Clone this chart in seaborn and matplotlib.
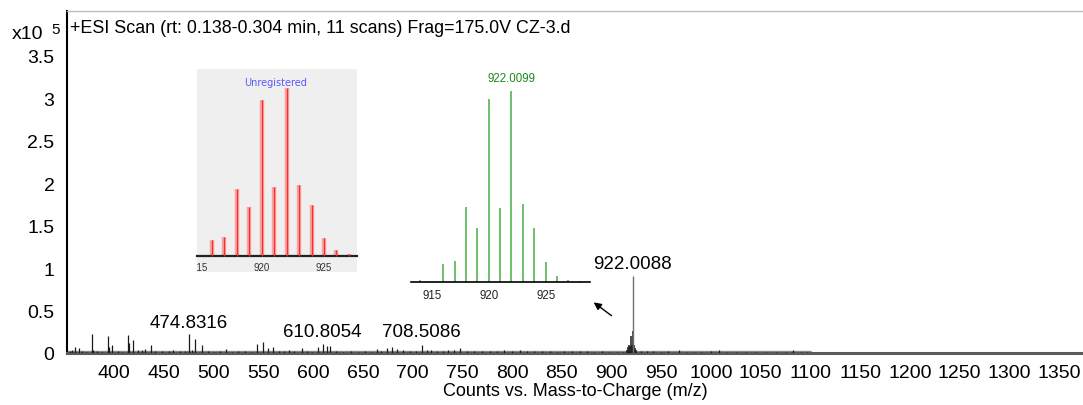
import matplotlib
matplotlib.use("Agg")
import matplotlib.pyplot as plt
import seaborn as sns
import numpy as np
import pandas as pd

# ---------------- data ----------------
main_mz = [356, 358, 361, 365, 368, 372, 377.3, 379, 383, 388, 393.4, 395, 398, 404, 408,
           414.2, 415.2, 419.2, 424, 428, 431, 436.6, 441, 448, 455, 459, 466, 471, 475.4,
           478, 481.1, 487.9, 494, 500, 506, 512.3, 518, 524, 531, 537, 543.2, 549.2, 554.8,
           559.9, 566, 571, 576, 581, 588.4, 594, 599, 605, 610.1, 613.5, 616.8, 623, 630,
           638, 645, 652, 658, 663.7, 668, 673.8, 678.8, 683.9, 690, 697, 703, 709, 714, 718,
           725, 731, 736, 742, 748, 755, 762, 770, 778, 785, 792, 800, 808, 815, 822, 830,
           838, 845, 852, 860, 868, 875, 882, 890, 897, 905, 912, 930, 936, 942, 950, 957,
           968, 975, 983, 990, 1000, 1008, 1015, 1025, 1035, 1045, 1055, 1065, 1075, 1082.5,
           1090, 1097]
main_int = [0.02, 0.03, 0.067, 0.055, 0.02, 0.015, 0.224, 0.04, 0.02, 0.015, 0.197, 0.066,
            0.09, 0.02, 0.015, 0.212, 0.118, 0.153, 0.03, 0.03, 0.05, 0.094, 0.02, 0.02,
            0.025, 0.04, 0.02, 0.025, 0.224, 0.03, 0.165, 0.094, 0.02, 0.015, 0.02, 0.05,
            0.015, 0.02, 0.02, 0.015, 0.106, 0.126, 0.055, 0.067, 0.02, 0.025, 0.03, 0.02,
            0.055, 0.02, 0.015, 0.067, 0.106, 0.086, 0.078, 0.02, 0.015, 0.02, 0.015, 0.02,
            0.015, 0.047, 0.02, 0.055, 0.067, 0.047, 0.03, 0.025, 0.02, 0.094, 0.03, 0.04,
            0.02, 0.025, 0.04, 0.03, 0.055, 0.02, 0.025, 0.02, 0.025, 0.02, 0.03, 0.02, 0.04,
            0.02, 0.025, 0.02, 0.02, 0.015, 0.02, 0.025, 0.02, 0.02, 0.015, 0.02, 0.015,
            0.015, 0.015, 0.02, 0.025, 0.02, 0.015, 0.02, 0.03, 0.015, 0.015, 0.015, 0.02,
            0.03, 0.015, 0.015, 0.015, 0.015, 0.015, 0.015, 0.015, 0.03, 0.015, 0.015]

cluster_mz = [916, 917, 918, 919, 920, 921, 922, 923, 924, 925]
cluster_int = [0.03, 0.065, 0.1, 0.08, 0.2, 0.1, 0.255, 0.1, 0.06, 0.03]
apex_mz = [922.0]
apex_int = [0.91]

noise_range = [352.5, 1100]
noise_level = [0.012, 0.012]

# isotope pattern insets (relative intensity, %)
meas_mz = [916, 917, 918, 919, 920, 921, 922, 923, 924, 925, 926, 927]
meas_int = [9.4, 11.4, 40.2, 29.3, 93.0, 41.2, 100.0, 42.4, 30.3, 11.0, 3.4, 1.0]

calc_mz = [914, 915, 916, 917, 918, 919, 920, 921, 922, 923, 924, 925, 926, 927, 928]
calc_int = [0.9, 0.4, 9.2, 11.0, 39.3, 28.3, 95.6, 38.4, 100.0, 40.7, 28.3, 10.5, 3.0, 1.0, 0.5]

y_ticks = [0, 0.5, 1, 1.5, 2, 2.5, 3, 3.5]
y_ticklabels = ["0", "0.5", "1", "1.5", "2", "2.5", "3", "3.5"]
x_ticks = list(range(400, 1351, 50))
inset_ticks = [915, 920, 925]

peak_labels = ["474.8316", "610.8054", "708.5086", "922.0088"]
peak_label_x = [475.1, 608.8, 708.3, 921.3]
peak_label_y = [0.365, 0.25, 0.25, 1.05]

title = "+ESI Scan (rt: 0.138-0.304 min, 11 scans) Frag=175.0V CZ-3.d"
xlabel = "Counts vs. Mass-to-Charge (m/z)"

# ---------------- style ----------------
sns.set_theme(style="white")
plt.rcParams["font.family"] = ["Liberation Sans", "DejaVu Sans"]

W, H = 1083, 406
fig = plt.figure(figsize=(W / 100, H / 100), dpi=100)

def fr(x0, y0, x1, y1):
    # pixel box (top-left origin) -> figure fraction rect
    return [x0 / W, 1 - y1 / H, (x1 - x0) / W, (y1 - y0) / H]

# ---------------- main axes ----------------
ax = fig.add_axes(fr(67, 12, 1083, 354))
ax.set_xlim(352.5, 1374)
ax.set_ylim(0, 4.03)

noise_df = pd.DataFrame({"mz": noise_range, "I": noise_level})
sns.lineplot(data=noise_df, x="mz", y="I", ax=ax, color="#8a8a8a", lw=2.4, zorder=2)
ax.vlines(main_mz, 0, main_int, color="#1a1a1a", lw=0.9, zorder=3)
ax.vlines(cluster_mz, 0, cluster_int, color="#1a1a1a", lw=1.1, zorder=3)
ax.vlines(apex_mz, 0, apex_int, color="#707070", lw=1.0, zorder=3)

ax.set_xticks(x_ticks)
ax.set_xticklabels([str(v) for v in x_ticks], fontsize=14)
ax.set_yticks(y_ticks)
ax.set_yticklabels(y_ticklabels, fontsize=14)
ax.tick_params(axis="x", direction="out", length=5, width=1, color="#777777", pad=3, labelcolor="black")
ax.tick_params(axis="y", direction="out", length=5, width=1, color="black", pad=4, labelcolor="black")
ax.set_xlabel(xlabel, fontsize=13, labelpad=1, color="black")
ax.set_ylabel("")

ax.spines["right"].set_visible(False)
ax.spines["top"].set_color("#bdbdbd")
ax.spines["top"].set_linewidth(1.0)
ax.spines["left"].set_color("black")
ax.spines["left"].set_linewidth(1.5)
ax.spines["bottom"].set_color("#5a5a5a")
ax.spines["bottom"].set_linewidth(2.2)

for t, x, y in zip(peak_labels, peak_label_x, peak_label_y):
    ax.text(x, y, t, ha="center", va="center", fontsize=13.5, color="black")

ax.text(0.003, 0.94, title, transform=ax.transAxes, ha="left", va="baseline",
        fontsize=12.9, color="black")
fig.text(12 / W, 1 - 39 / H, "x10", ha="left", va="baseline", fontsize=14, color="black")
fig.text(51 / W, 1 - 34 / H, "5", ha="left", va="baseline", fontsize=11, color="black")

ax.annotate("", xy=(879.8, 0.616), xytext=(902.2, 0.42), xycoords="data",
            arrowprops=dict(arrowstyle="-|>", color="black", lw=1.0, mutation_scale=11))

# ---------------- red inset (measured) ----------------
axr = fig.add_axes(fr(197, 70, 357, 273))
axr.set_facecolor("#efefef")
axr.set_xlim(914.8, 927.65)
axr.set_ylim(-9.5, 111.5)
axr.vlines(meas_mz, 0, meas_int, color="#f5a3a3", lw=3.2, zorder=2)
axr.vlines(meas_mz, 0, meas_int, color="#ff2a2a", lw=0.9, zorder=3)
for s in ["top", "right", "left"]:
    axr.spines[s].set_visible(False)
axr.spines["bottom"].set_position(("data", 0))
axr.spines["bottom"].set_color("#222222")
axr.spines["bottom"].set_linewidth(1.6)
axr.set_yticks([])
axr.set_xticks(inset_ticks)
axr.set_xticklabels([str(v) for v in inset_ticks], fontsize=7, color="#333333")
axr.set_xticks(list(range(915, 928)), minor=True)
axr.tick_params(axis="x", which="major", direction="out", length=3, width=0.8, color="#333333", pad=1.5)
axr.tick_params(axis="x", which="minor", direction="out", length=2, width=0.6, color="#333333")
axr.set_xlabel("")
axr.set_ylabel("")
for tk in axr.xaxis.get_major_ticks():
    tk.label1.set_clip_on(True)
    tk.label1.set_clip_box(axr.bbox)
axr.text(921.1, 104, "Unregistered", ha="center", va="center", fontsize=7,
         color="#5a5aff", fontfamily="DejaVu Sans")

# ---------------- green inset (calculated) ----------------
axg = fig.add_axes(fr(411, 70, 590, 282.7))
axg.set_facecolor("none")
axg.patch.set_alpha(0)
axg.set_xlim(913.18, 928.89)
axg.set_ylim(0, 111.4)
axg.vlines(calc_mz, 0, calc_int, color="#6cbf6c", lw=1.4)
for s in ["top", "right", "left"]:
    axg.spines[s].set_visible(False)
axg.spines["bottom"].set_color("black")
axg.spines["bottom"].set_linewidth(1.2)
axg.set_yticks([])
axg.set_xticks(inset_ticks)
axg.set_xticklabels([str(v) for v in inset_ticks], fontsize=8.3, color="#222222")
axg.tick_params(axis="x", direction="out", length=3, width=0.8, color="black", pad=2)
axg.set_xlabel("")
axg.set_ylabel("")
axg.text(922, 103.5, "922.0099", ha="center", va="bottom", fontsize=8.3, color="#1f8a1f")

fig.savefig("out.png", dpi=100)
